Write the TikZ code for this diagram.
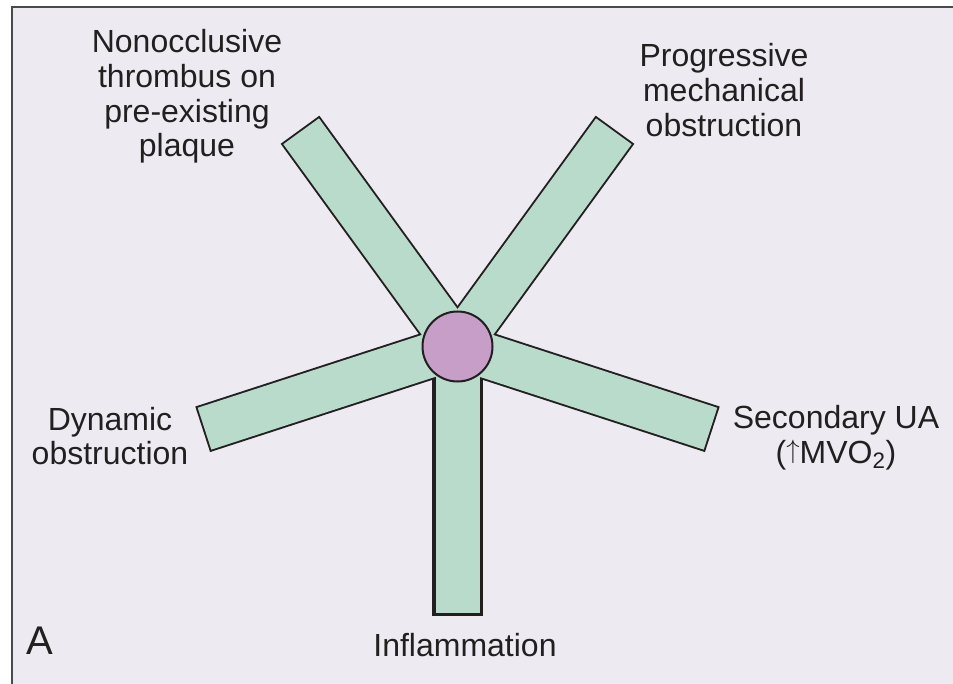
\documentclass[tikz,border=0pt]{standalone}
\usepackage{fontspec}
\setmainfont{Liberation Sans}
\definecolor{bgc}{HTML}{EDEAF1}
\definecolor{barc}{HTML}{B8DBCB}
\definecolor{hubc}{HTML}{C69EC8}
\definecolor{txt}{HTML}{231F20}
\definecolor{framec}{HTML}{4A4A4A}
\newcommand{\uparr}{\raisebox{0.155em}{\scalebox{0.8}{$\uparrow$}}}
\begin{document}
\begin{tikzpicture}[x=0.75pt,y=-0.75pt,
  lbl/.style={font=\fontsize{24}{26}\selectfont, text=txt, align=center, inner sep=0pt, anchor=north},
  barfill/.style={fill=barc},
  hubstyle/.style={circle, draw=txt, fill=hubc, line width=1.5pt, minimum size=52.5pt, inner sep=0pt}]
\useasboundingbox (0,0) rectangle (953,684);
\fill[white] (0,0) rectangle (953,684);
\fill[bgc] (11.7,7.3) rectangle (953,684);
\draw[framec, line width=1.2pt] (11.7,684) -- (11.7,7.3) -- (953,7.3);

\coordinate (c) at (457.5,346.5);
% outlines (double width, half covered by fill)
\foreach \a/\w in {54/2.9pt,126/2.9pt,198/2.9pt,342/2.9pt,270/4.6pt}{
  \draw[txt, line width=\w, shift={(c)}, rotate=\a] (0,-22) rectangle (266,22);
}
\foreach \a in {54,126,198,342,270}{
  \fill[barfill, shift={(c)}, rotate=\a] (0,-22) rectangle (266,22);
}
\node[hubstyle] (hub) at (c) {};

\node[lbl] (nonocc) at (187,29.3) {Nonocclusive\\thrombus on\\pre-existing\\plaque};
\node[lbl] (prog) at (724,43.3) {Progressive\\mechanical\\obstruction};
\node[lbl] (dyn) at (110,406.7) {Dynamic\\obstruction};
\node[lbl] (sec) at (836,405) {Secondary UA\\(\uparr MVO\textsubscript{2})};
\node[lbl] (infl) at (465,633.3) {Inflammation};
\node[font=\fontsize{30}{32}\selectfont, text=txt, inner sep=0pt, anchor=north] (lblA) at (40,626.7) {A};
\end{tikzpicture}
\end{document}
